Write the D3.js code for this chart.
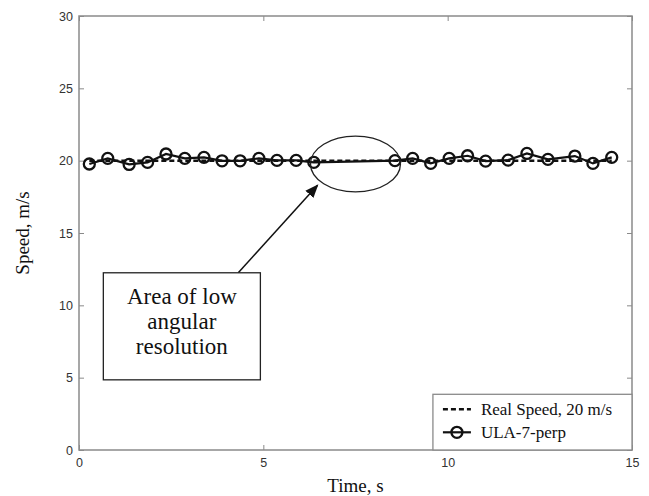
<!DOCTYPE html>
<html>
<head>
<meta charset="utf-8">
<script src="https://cdn.jsdelivr.net/npm/d3@7"></script>
<style>
  body { margin: 0; background: #fff; }
  svg { display: block; }
</style>
</head>
<body>
<svg width="649" height="496"></svg>
<script>
// measured ULA-7-perp estimates (time in s, speed in m/s)
const ulaTime = [0.28, 0.78, 1.36, 1.86, 2.36, 2.87, 3.39, 3.88, 4.37, 4.88, 5.37, 5.89, 6.37,
                 8.57, 9.05, 9.54, 10.04, 10.54, 11.03, 11.64, 12.15, 12.72, 13.45, 13.94, 14.45];
const ulaSpeed = [19.77, 20.16, 19.74, 19.88, 20.46, 20.16, 20.23, 19.99, 19.99, 20.16, 20.02, 20.02, 19.88,
                  20.0, 20.16, 19.81, 20.16, 20.34, 19.97, 20.04, 20.5, 20.09, 20.32, 19.81, 20.23];
const realTime = [0.28, 14.45];
const realSpeed = [20, 20];
const xTicks = [0, 5, 10, 15];
const yTicks = [0, 5, 10, 15, 20, 25, 30];
const noteLines = ["Area of low", "angular", "resolution"];
const legendLabels = ["Real Speed, 20 m/s", "ULA-7-perp"];

const svg = d3.select("svg");
const margin = {top: 16, right: 17, bottom: 46, left: 79};
const width = 649 - margin.left - margin.right;
const height = 496 - margin.top - margin.bottom;
const g = svg.append("g").attr("transform", `translate(${margin.left},${margin.top})`);

const x = d3.scaleLinear().domain([0, 15]).range([0, width]);
const y = d3.scaleLinear().domain([0, 30]).range([height, 0]);

const axisColor = "#8a8a8a";
const tickFont = "Liberation Sans, Arial, sans-serif";
const serif = "Liberation Serif, Times New Roman, serif";

function styleAxis(sel, showText) {
  sel.select(".domain").remove();
  sel.selectAll(".tick line").attr("stroke", axisColor);
  sel.selectAll(".tick text")
    .attr("fill", "#333")
    .style("font-family", tickFont)
    .style("font-size", "12.5px")
    .style("display", showText ? null : "none");
}

// axes with inward ticks on all four sides
g.append("g").attr("transform", `translate(0,${height})`)
  .call(d3.axisBottom(x).tickValues(xTicks).tickSize(-5).tickPadding(8))
  .call(s => styleAxis(s, true));
g.append("g")
  .call(d3.axisTop(x).tickValues(xTicks).tickSize(-5))
  .call(s => styleAxis(s, false));
g.append("g")
  .call(d3.axisLeft(y).tickValues(yTicks).tickSize(-5).tickPadding(6))
  .call(s => styleAxis(s, true));
g.append("g").attr("transform", `translate(${width},0)`)
  .call(d3.axisRight(y).tickValues(yTicks).tickSize(-5))
  .call(s => styleAxis(s, false));

g.append("rect")
  .attr("width", width).attr("height", height)
  .attr("fill", "none").attr("stroke", axisColor).attr("stroke-width", 1.5);

// series
const ulaData = ulaTime.map((t, i) => ({t: t, v: ulaSpeed[i]}));
const realData = realTime.map((t, i) => ({t: t, v: realSpeed[i]}));
const line = d3.line().x(d => x(d.t)).y(d => y(d.v));

g.append("path").datum(realData)
  .attr("fill", "none").attr("stroke", "#111")
  .attr("stroke-width", 2.5).attr("stroke-dasharray", "5,3")
  .attr("d", line);

g.append("path").datum(ulaData)
  .attr("fill", "none").attr("stroke", "#111")
  .attr("stroke-width", 2.2)
  .attr("d", line);

g.selectAll("circle.mk").data(ulaData).join("circle")
  .attr("class", "mk")
  .attr("cx", d => x(d.t)).attr("cy", d => y(d.v))
  .attr("r", 5.5)
  .attr("fill", "none").attr("stroke", "#111").attr("stroke-width", 2.3);

// annotation: ellipse, arrow, text box
g.append("ellipse")
  .attr("cx", x(7.5)).attr("cy", y(19.77))
  .attr("rx", x(1.22) - x(0)).attr("ry", y(0) - y(1.93))
  .attr("fill", "none").attr("stroke", "#222").attr("stroke-width", 1.3);

svg.append("defs").append("marker")
  .attr("id", "arrow").attr("viewBox", "0 0 10 10")
  .attr("refX", 9).attr("refY", 5)
  .attr("markerWidth", 9).attr("markerHeight", 9)
  .attr("orient", "auto")
  .append("path").attr("d", "M0,1 L10,5 L0,9 Z").attr("fill", "#111");

g.append("line")
  .attr("x1", x(4.32)).attr("y1", y(12.25))
  .attr("x2", x(6.47)).attr("y2", y(18.3))
  .attr("stroke", "#111").attr("stroke-width", 1.5)
  .attr("marker-end", "url(#arrow)");

const boxX0 = x(0.66), boxX1 = x(4.92), boxY0 = y(12.25), boxY1 = y(4.85);
g.append("rect")
  .attr("x", boxX0).attr("y", boxY0)
  .attr("width", boxX1 - boxX0).attr("height", boxY1 - boxY0)
  .attr("fill", "#fff").attr("stroke", "#222").attr("stroke-width", 1.3);

g.append("text")
  .attr("x", (boxX0 + boxX1) / 2).attr("y", boxY0 + 31)
  .attr("text-anchor", "middle")
  .style("font-family", serif).style("font-size", "23px").attr("fill", "#111")
  .selectAll("tspan").data(noteLines).join("tspan")
  .attr("x", (boxX0 + boxX1) / 2)
  .attr("dy", (d, i) => i === 0 ? 0 : 25)
  .text(d => d);

// legend
const lgX = x(9.6), lgY = y(3.85);
const legend = g.append("g").attr("transform", `translate(${lgX},${lgY})`);
legend.append("rect")
  .attr("width", width - lgX).attr("height", height - lgY)
  .attr("fill", "#fff").attr("stroke", axisColor).attr("stroke-width", 1.3);
legend.append("line")
  .attr("x1", 10).attr("x2", 38).attr("y1", 15).attr("y2", 15)
  .attr("stroke", "#111").attr("stroke-width", 2.5).attr("stroke-dasharray", "5,3");
legend.append("line")
  .attr("x1", 10).attr("x2", 38).attr("y1", 38).attr("y2", 38)
  .attr("stroke", "#111").attr("stroke-width", 2.2);
legend.append("circle")
  .attr("cx", 24).attr("cy", 38).attr("r", 5.5)
  .attr("fill", "none").attr("stroke", "#111").attr("stroke-width", 2.3);
legend.selectAll("text.lg").data(legendLabels).join("text")
  .attr("class", "lg")
  .attr("x", 48).attr("y", (d, i) => 21 + i * 23)
  .style("font-family", serif).style("font-size", "17px").attr("fill", "#111")
  .text(d => d);

// axis titles
svg.append("text")
  .attr("x", margin.left + width / 2).attr("y", 492)
  .attr("text-anchor", "middle")
  .style("font-family", serif).style("font-size", "19px").attr("fill", "#111")
  .text("Time, s");
svg.append("text")
  .attr("transform", `translate(29,${margin.top + height / 2}) rotate(-90)`)
  .attr("text-anchor", "middle")
  .style("font-family", serif).style("font-size", "19px").attr("fill", "#111")
  .text("Speed, m/s");
</script>
</body>
</html>
